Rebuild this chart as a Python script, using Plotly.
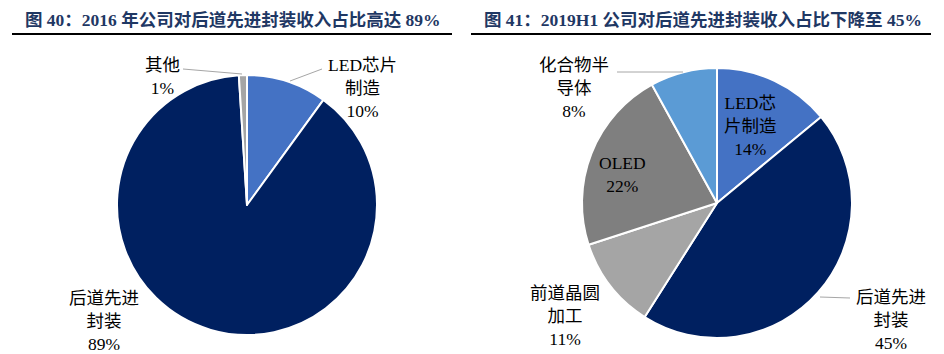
import plotly.graph_objects as go

# ---- data ----
left_title = "图 40：2016 年公司对后道先进封装收入占比高达 89%"
right_title = "图 41：2019H1 公司对后道先进封装收入占比下降至 45%"

left_labels = ["LED芯片制造", "后道先进封装", "其他"]
left_values = [10, 89, 1]

right_labels = ["LED芯片制造", "后道先进封装", "前道晶圆加工", "OLED", "化合物半导体"]
right_values = [14, 45, 11, 22, 8]

# ---- styles / layout ----
W, H = 944, 354
left_colors = ["#4472C4", "#002060", "#A5A5A5"]
right_colors = ["#4472C4", "#002060", "#A5A5A5", "#7F7F7F", "#5B9BD5"]

# line-wrapped display names (label layout)
left_wrap = ["LED芯片<br>制造", "后道先进<br>封装", "其他"]
right_wrap = ["LED芯<br>片制造", "后道先进<br>封装", "前道晶圆<br>加工", "OLED", "化合物半<br>导体"]

# label centres in pixels (x, y from top)
left_label_pos = [(362, 88), (104, 321), (162, 76)]
right_label_pos = [(750, 126), (891, 320), (565, 316), (622, 174), (574, 88)]

# leader lines in pixels
leader_lines = [((183, 69), (242, 74)), ((322, 69), (290, 81)),
                ((617, 72), (683, 72)), ((820, 297), (850, 298))]

FONT = "Liberation Serif, 'Noto Sans CJK SC', serif"
TITLE_COLOR = "#1F3864"


def px(x):
    return x / W


def py(y):
    return 1 - y / H


fig = go.Figure()

# left pie: centre (247,205), radius 130
fig.add_trace(go.Pie(
    labels=left_labels, values=left_values, sort=False, direction="clockwise",
    rotation=0, textinfo="none", hoverinfo="label+percent",
    marker=dict(colors=left_colors, line=dict(color="white", width=2)),
    domain=dict(x=[px(247 - 130), px(247 + 130)], y=[py(205 + 130), py(205 - 130)]),
    showlegend=False,
))
# right pie: centre (717,203), radius 135
fig.add_trace(go.Pie(
    labels=right_labels, values=right_values, sort=False, direction="clockwise",
    rotation=0, textinfo="none", hoverinfo="label+percent",
    marker=dict(colors=right_colors, line=dict(color="white", width=2)),
    domain=dict(x=[px(717 - 135), px(717 + 135)], y=[py(203 + 135), py(203 - 135)]),
    showlegend=False,
))

annotations = []
for wrap, val, (x, y) in zip(left_wrap, left_values, left_label_pos):
    annotations.append(dict(text=f"{wrap}<br>{val}%", x=px(x), y=py(y), xref="paper", yref="paper",
                            xanchor="center", yanchor="middle", showarrow=False,
                            font=dict(family=FONT, size=17.5, color="black")))
for wrap, val, (x, y) in zip(right_wrap, right_values, right_label_pos):
    annotations.append(dict(text=f"{wrap}<br>{val}%", x=px(x), y=py(y), xref="paper", yref="paper",
                            xanchor="center", yanchor="middle", showarrow=False,
                            font=dict(family=FONT, size=17.5, color="black")))

annotations.append(dict(text=f"<b>{left_title}</b>", x=px(23), y=py(20), xref="paper", yref="paper",
                        xanchor="left", yanchor="middle", showarrow=False,
                        font=dict(family=FONT, size=17.5, color=TITLE_COLOR)))
annotations.append(dict(text=f"<b>{right_title}</b>", x=px(482), y=py(20), xref="paper", yref="paper",
                        xanchor="left", yanchor="middle", showarrow=False,
                        font=dict(family=FONT, size=17.5, color=TITLE_COLOR)))

shapes = [
    dict(type="line", xref="paper", yref="paper", x0=px(12), x1=px(452), y0=py(34), y1=py(34),
         line=dict(color="black", width=2)),
    dict(type="line", xref="paper", yref="paper", x0=px(471), x1=px(931), y0=py(34), y1=py(34),
         line=dict(color="black", width=2)),
]
for (x0, y0), (x1, y1) in leader_lines:
    shapes.append(dict(type="line", xref="paper", yref="paper", x0=px(x0), y0=py(y0), x1=px(x1), y1=py(y1),
                       line=dict(color="#A6A6A6", width=1)))

fig.update_layout(
    width=W, height=H, margin=dict(l=0, r=0, t=0, b=0),
    paper_bgcolor="white", plot_bgcolor="white",
    annotations=annotations, shapes=shapes,
)

fig.write_html("out.html")
